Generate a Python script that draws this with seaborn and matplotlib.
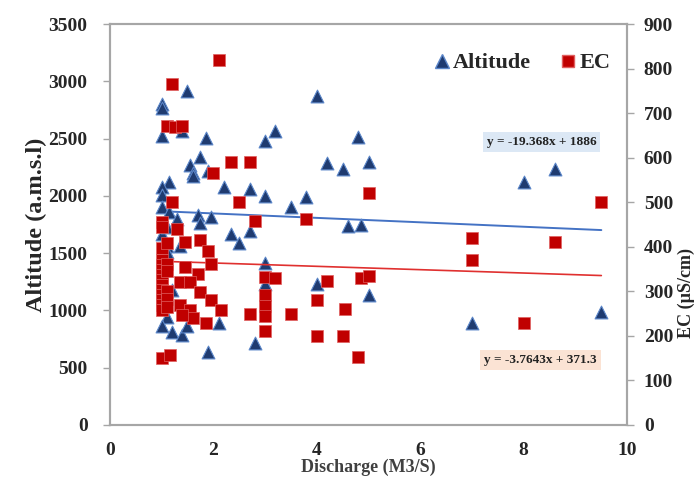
import matplotlib
matplotlib.use("Agg")
import matplotlib.pyplot as plt
import seaborn as sns
import numpy as np
import pandas as pd
from matplotlib.lines import Line2D

# ---------------- data ----------------
alt_discharge = [1.0, 1.0, 1.5, 1.0, 1.4, 1.85, 3.2, 3.0, 1.75, 1.55, 1.6, 1.6, 1.9, 1.15,
                 1.0, 1.0, 2.2, 2.7, 3.0, 3.5, 1.0, 1.15, 1.3, 1.7, 1.75, 1.95, 2.35, 2.7,
                 2.5, 1.0, 1.1, 1.1, 1.35, 1.1, 3.0, 3.0, 1.2, 1.1, 1.0, 1.2, 1.4, 1.5,
                 2.1, 2.8, 1.9, 4.0, 4.8, 4.2, 4.5, 5.0, 3.8, 4.6, 4.85, 4.0, 5.0, 7.0,
                 8.0, 8.6, 9.5]
altitude = [2800, 2770, 2915, 2520, 2570, 2505, 2570, 2480, 2340, 2270, 2200, 2170, 2220, 2120,
            2080, 2010, 2080, 2065, 2000, 1900, 1905, 1860, 1800, 1830, 1760, 1820, 1670, 1690,
            1590, 1670, 1730, 1560, 1560, 1510, 1415, 1235, 1180, 945, 860, 815, 785, 865,
            890, 715, 640, 2870, 2515, 2285, 2235, 2295, 1990, 1740, 1745, 1235, 1135, 890,
            2120, 2235, 990]

ec_discharge = [2.1, 1.2, 1.1, 1.25, 1.4, 2.35, 2.7, 2.0, 2.5, 1.2, 2.8, 1.0, 1.0, 1.3,
                1.45, 1.75, 1.9, 1.0, 1.1, 3.8, 5.0,
                1.0, 1.0, 1.0, 1.0, 1.0, 1.0, 1.0, 1.0, 1.0, 1.0, 1.0,
                1.1, 1.1, 1.1, 1.1, 1.1,
                1.45, 1.95, 1.7, 1.35, 1.55, 1.75, 1.95, 2.15, 1.35, 1.55, 1.6, 1.4, 1.85,
                2.7, 3.0, 3.2, 3.0, 3.0, 3.0, 3.5, 3.0, 1.0, 1.17,
                4.2, 4.0, 4.55, 4.0, 4.5, 4.85, 5.0, 4.8, 7.0, 7.0, 8.0, 8.6, 9.5]
ec_values = [819, 765, 672, 669, 672, 590, 590, 565, 500, 500, 458, 455, 444, 440,
             410, 415, 390, 397, 408, 463, 520,
             370, 359, 348, 337, 325, 314, 303, 292, 280, 269, 258,
             362, 345, 300, 283, 265,
             355, 361, 340, 322, 322, 299, 281, 258, 269, 258, 240, 247, 230,
             249, 333, 329, 292, 268, 245, 249, 210, 150, 157,
             324, 280, 260, 200, 200, 329, 334, 152, 420, 370, 228, 410, 500]

alt_trend = [-19.368, 1886]     # slope, intercept
ec_trend = [-3.7643, 371.3]
alt_eq_text = "y = -19.368x + 1886"
ec_eq_text = "y = -3.7643x + 371.3"

x_ticks = [0, 2, 4, 6, 8, 10]
alt_ticks = [0, 500, 1000, 1500, 2000, 2500, 3000, 3500]
ec_ticks = [0, 100, 200, 300, 400, 500, 600, 700, 800, 900]

# ---------------- style ----------------
sns.set_style("white")
plt.rcParams['font.family'] = ['Liberation Serif', 'DejaVu Serif']
plt.rcParams['font.weight'] = 'bold'

BLUE = "#1F3B70"
BLUE_EDGE = "#5B86C9"
RED = "#C00000"
RED_EDGE = "#E06060"
SPINE = "#A6A6A6"

fig = plt.figure(figsize=(7.0, 4.84), dpi=100)
ax = fig.add_axes([0.157, 0.122, 0.739, 0.828])
ax2 = ax.twinx()

df_alt = pd.DataFrame({"Discharge": alt_discharge, "Altitude": altitude})
df_ec = pd.DataFrame({"Discharge": ec_discharge, "EC": ec_values})

sns.scatterplot(data=df_alt, x="Discharge", y="Altitude", ax=ax, marker="^", s=85,
                color=BLUE, edgecolor=BLUE_EDGE, linewidth=0.8, zorder=3, legend=False)
sns.scatterplot(data=df_ec, x="Discharge", y="EC", ax=ax2, marker="s", s=65,
                color=RED, edgecolor=RED_EDGE, linewidth=0.5, zorder=3, legend=False)

# trend lines from the given equations over the data range
xa = np.array([min(alt_discharge), max(alt_discharge)])
sns.lineplot(x=xa, y=alt_trend[0] * xa + alt_trend[1], ax=ax, color="#4472C4", linewidth=1.4, zorder=2)
xe = np.array([min(ec_discharge), max(ec_discharge)])
sns.lineplot(x=xe, y=ec_trend[0] * xe + ec_trend[1], ax=ax2, color="#E0302F", linewidth=1.2, zorder=2)

ax.set_xlim(0, 10)
ax.set_ylim(0, 3500)
ax2.set_ylim(0, 900)
ax.set_xticks(x_ticks)
ax.set_yticks(alt_ticks)
ax2.set_yticks(ec_ticks)

for a in (ax, ax2):
    for s in a.spines.values():
        s.set_color(SPINE)
        s.set_linewidth(1.5)
    a.tick_params(axis="both", which="major", length=5, width=1, color=SPINE,
                  labelsize=14, direction="out")
ax.tick_params(axis="y", pad=11)
ax.tick_params(axis="x", pad=7)
ax2.tick_params(axis="y", pad=7)
for lab in ax.get_xticklabels() + ax.get_yticklabels() + ax2.get_yticklabels():
    lab.set_fontweight("bold")

ax.set_xlabel("Discharge (M3/S)", fontsize=13, fontweight="bold", color="#404040", labelpad=0)
ax.set_ylabel("Altitude (a.m.s.l)", fontsize=17.5, fontweight="bold", labelpad=1)
ax2.set_ylabel("EC (µS/cm)", fontsize=13, fontweight="bold", labelpad=2)
ax2.yaxis.set_label_coords(1.097, 0.33)

# legend
handles = [Line2D([], [], marker="^", linestyle="none", markersize=10, color=BLUE,
                  markeredgecolor=BLUE_EDGE, label="Altitude"),
           Line2D([], [], marker="s", linestyle="none", markersize=9, color=RED,
                  markeredgecolor=RED_EDGE, label="EC")]
ax.legend(handles=handles, loc="center right", bbox_to_anchor=(0.967, 0.903), ncol=2,
          frameon=False, prop={"size": 16, "weight": "bold"}, handlelength=0.6,
          handletextpad=0.2, columnspacing=1.36, borderpad=0, borderaxespad=0)

# equation labels
ax.text(0.834, 0.707, alt_eq_text, transform=ax.transAxes, ha="center", va="center",
        fontsize=9.5, fontweight="bold", color="#222222",
        bbox=dict(boxstyle="square,pad=0.3", facecolor="#DCE8F5", edgecolor="none"))
ax.text(0.832, 0.162, ec_eq_text, transform=ax.transAxes, ha="center", va="center",
        fontsize=9.5, fontweight="bold", color="#222222",
        bbox=dict(boxstyle="square,pad=0.3", facecolor="#FBE3D4", edgecolor="none"))

fig.savefig("out.png", dpi=100)
